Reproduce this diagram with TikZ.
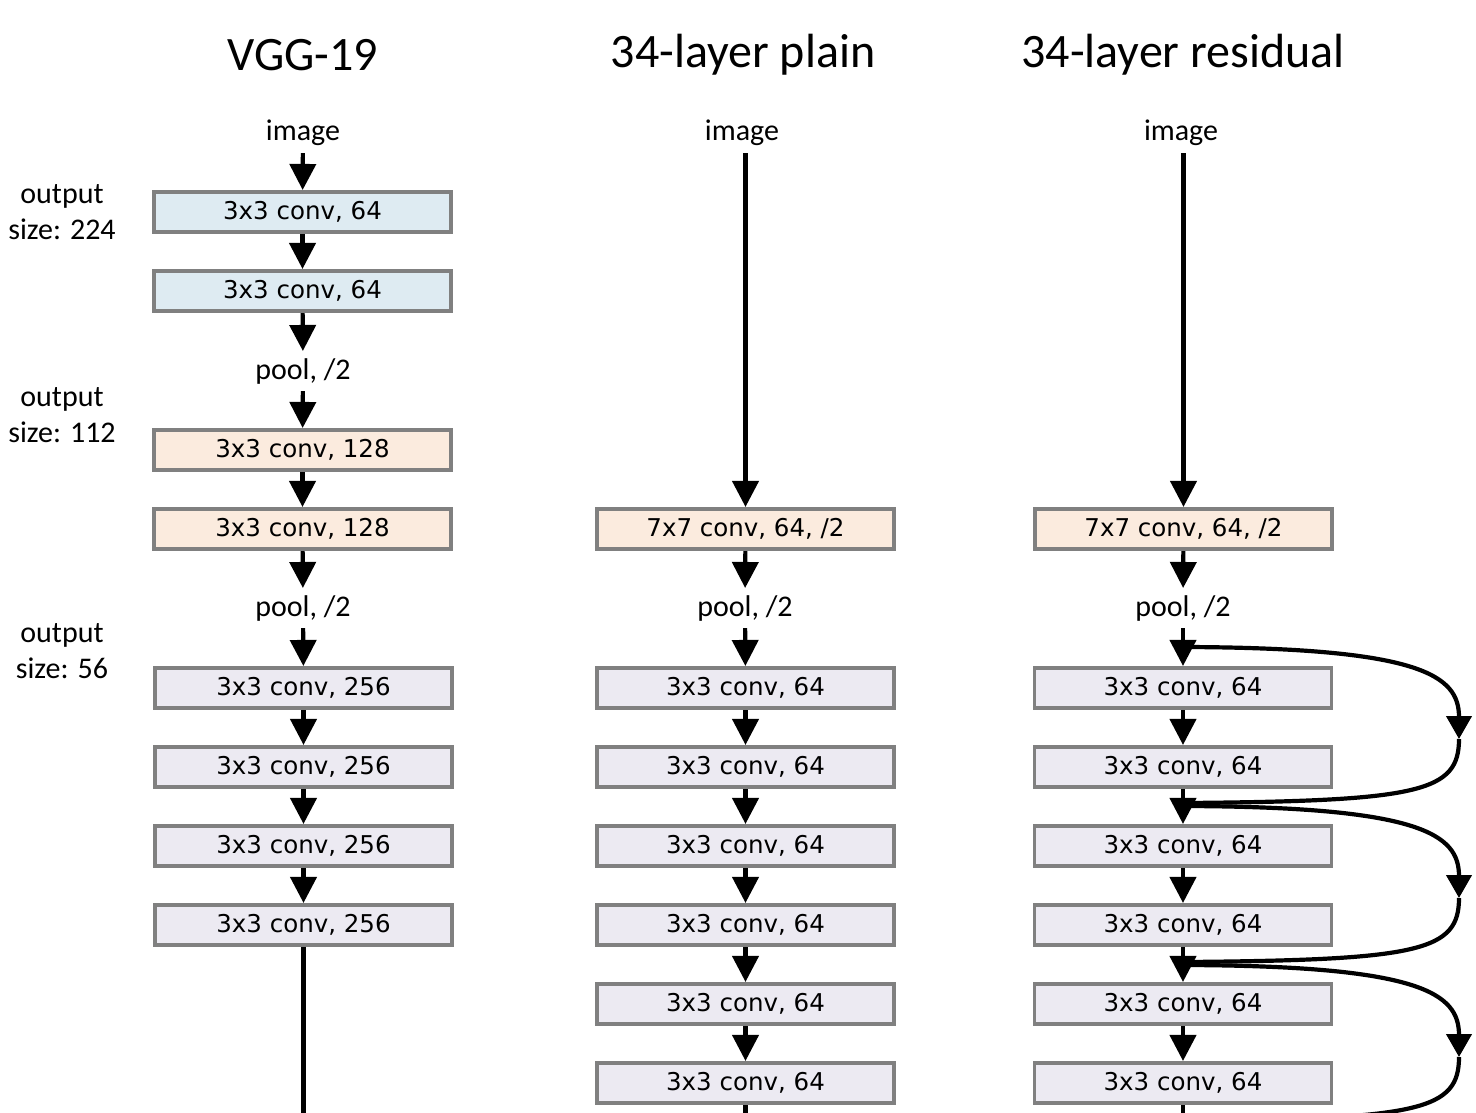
\documentclass[tikz,border=0pt]{standalone}
\usepackage{fontspec}
\setmainfont{Carlito}
\newfontfamily\boxfont{DejaVu Sans}
\usetikzlibrary{arrows.meta}
\definecolor{boxgray}{RGB}{128,128,128}
\definecolor{fblue}{RGB}{222,235,242}
\definecolor{fpeach}{RGB}{251,235,222}
\definecolor{flav}{RGB}{236,234,242}
\begin{document}
\begin{tikzpicture}[x=1pt,y=-1pt,
  conv/.style={draw=boxgray, line width=3.6pt, minimum width=297pt, minimum height=40.5pt, inner sep=0pt, font=\boxfont\fontsize{24.5}{28}\selectfont},
  cblue/.style={conv, fill=fblue},
  cpeach/.style={conv, fill=fpeach},
  clav/.style={conv, fill=flav},
  lbl/.style={font=\fontsize{30}{36}\selectfont, inner xsep=0pt, inner ysep=7pt},
  side/.style={font=\fontsize{30}{36}\selectfont, align=center, inner sep=0pt},
  ttl/.style={font=\fontsize{48}{56}\selectfont, inner sep=0pt},
  flow/.style={line width=4.2pt, -{Triangle[width=26pt,length=26pt]}},
  plainline/.style={line width=4.2pt},
  skip/.style={line width=4.2pt, -{Triangle[width=25pt,length=23pt]}}
]
\useasboundingbox (0,0) rectangle (1476,1112);

% titles
\node[ttl] (t1) at (303,55) {VGG-19};
\node[ttl] (t2) at (743,55) {34-layer plain};
\node[ttl] (t3) at (1183,55) {34-layer residual};

% side labels
\node[side] (o1) at (62,212) {output\\size: 224};
\node[side] (o2) at (62,415) {output\\size: 112};
\node[side] (o3) at (62,651) {output\\size: 56};

% VGG column
\node[lbl] (vimg) at (303,133) {image};
\node[cblue] (v1) at (302.5,212) {3x3 conv, 64};
\node[cblue] (v2) at (302.5,291) {3x3 conv, 64};
\node[lbl] (vp1) at (303,371) {pool, /2};
\node[cpeach] (v3) at (302.5,450) {3x3 conv, 128};
\node[cpeach] (v4) at (302.5,529) {3x3 conv, 128};
\node[lbl] (vp2) at (303,608) {pool, /2};
\node[clav] (v5) at (303.5,688) {3x3 conv, 256};
\node[clav] (v6) at (303.5,767) {3x3 conv, 256};
\node[clav] (v7) at (303.5,846) {3x3 conv, 256};
\node[clav] (v8) at (303.5,925) {3x3 conv, 256};
\coordinate (vend) at (303.5,1120);

\draw[flow] (vimg) -- (v1);
\draw[flow] (v1) -- (v2);
\draw[flow] (v2) -- (vp1);
\draw[flow] (vp1) -- (v3);
\draw[flow] (v3) -- (v4);
\draw[flow] (v4) -- (vp2);
\draw[flow] (vp2) -- (v5);
\draw[flow] (v5) -- (v6);
\draw[flow] (v6) -- (v7);
\draw[flow] (v7) -- (v8);
\draw[plainline] (v8.south) -- (vend);

% plain column
\node[lbl] (pimg) at (742,133) {image};
\node[cpeach] (p0) at (745.5,529) {7x7 conv, 64, /2};
\node[lbl] (pp) at (745,608) {pool, /2};
\node[clav] (p1) at (745.5,688) {3x3 conv, 64};
\node[clav] (p2) at (745.5,767) {3x3 conv, 64};
\node[clav] (p3) at (745.5,846) {3x3 conv, 64};
\node[clav] (p4) at (745.5,925) {3x3 conv, 64};
\node[clav] (p5) at (745.5,1004) {3x3 conv, 64};
\node[clav] (p6) at (745.5,1083) {3x3 conv, 64};
\coordinate (pend) at (745.5,1120);

\draw[flow] (pimg.south -| p0.north) -- (p0);
\draw[flow] (p0) -- (pp);
\draw[flow] (pp) -- (p1);
\draw[flow] (p1) -- (p2);
\draw[flow] (p2) -- (p3);
\draw[flow] (p3) -- (p4);
\draw[flow] (p4) -- (p5);
\draw[flow] (p5) -- (p6);
\draw[plainline] (p6.south) -- (pend);

% residual column
\node[lbl] (rimg) at (1181,133) {image};
\node[cpeach] (r0) at (1183.5,529) {7x7 conv, 64, /2};
\node[lbl] (rp) at (1183,608) {pool, /2};
\node[clav] (r1) at (1183,688) {3x3 conv, 64};
\node[clav] (r2) at (1183,767) {3x3 conv, 64};
\node[clav] (r3) at (1183,846) {3x3 conv, 64};
\node[clav] (r4) at (1183,925) {3x3 conv, 64};
\node[clav] (r5) at (1183,1004) {3x3 conv, 64};
\node[clav] (r6) at (1183,1083) {3x3 conv, 64};
\coordinate (rend) at (1183,1120);

\draw[flow] (rimg.south -| r0.north) -- (r0);
\draw[flow] (r0) -- (rp);
\draw[flow] (rp) -- (r1);
\draw[flow] (r1) -- (r2);
\draw[flow] (r2) -- (r3);
\draw[flow] (r3) -- (r4);
\draw[flow] (r4) -- (r5);
\draw[flow] (r5) -- (r6);
\draw[plainline] (r6.south) -- (rend);

% shortcut connections
\coordinate (s1a) at (1186,647);
\coordinate (s1m) at (1459,739);
\coordinate (s1b) at (1186,803);
\coordinate (s2a) at (1186,806);
\coordinate (s2m) at (1459,898);
\coordinate (s2b) at (1186,962);
\coordinate (s3a) at (1186,965);
\coordinate (s3m) at (1459,1057);
\coordinate (s3b) at (1186,1121);

\draw[skip] (s1a) .. controls (1420,648) and (1459,675) .. (s1m);
\draw[plainline] (s1m) .. controls (1459,792) and (1420,801) .. (s1b);
\draw[skip] (s2a) .. controls (1420,807) and (1459,834) .. (s2m);
\draw[plainline] (s2m) .. controls (1459,951) and (1420,960) .. (s2b);
\draw[skip] (s3a) .. controls (1420,966) and (1459,993) .. (s3m);
\draw[plainline] (s3m) .. controls (1459,1110) and (1420,1119) .. (s3b);
\end{tikzpicture}
\end{document}
